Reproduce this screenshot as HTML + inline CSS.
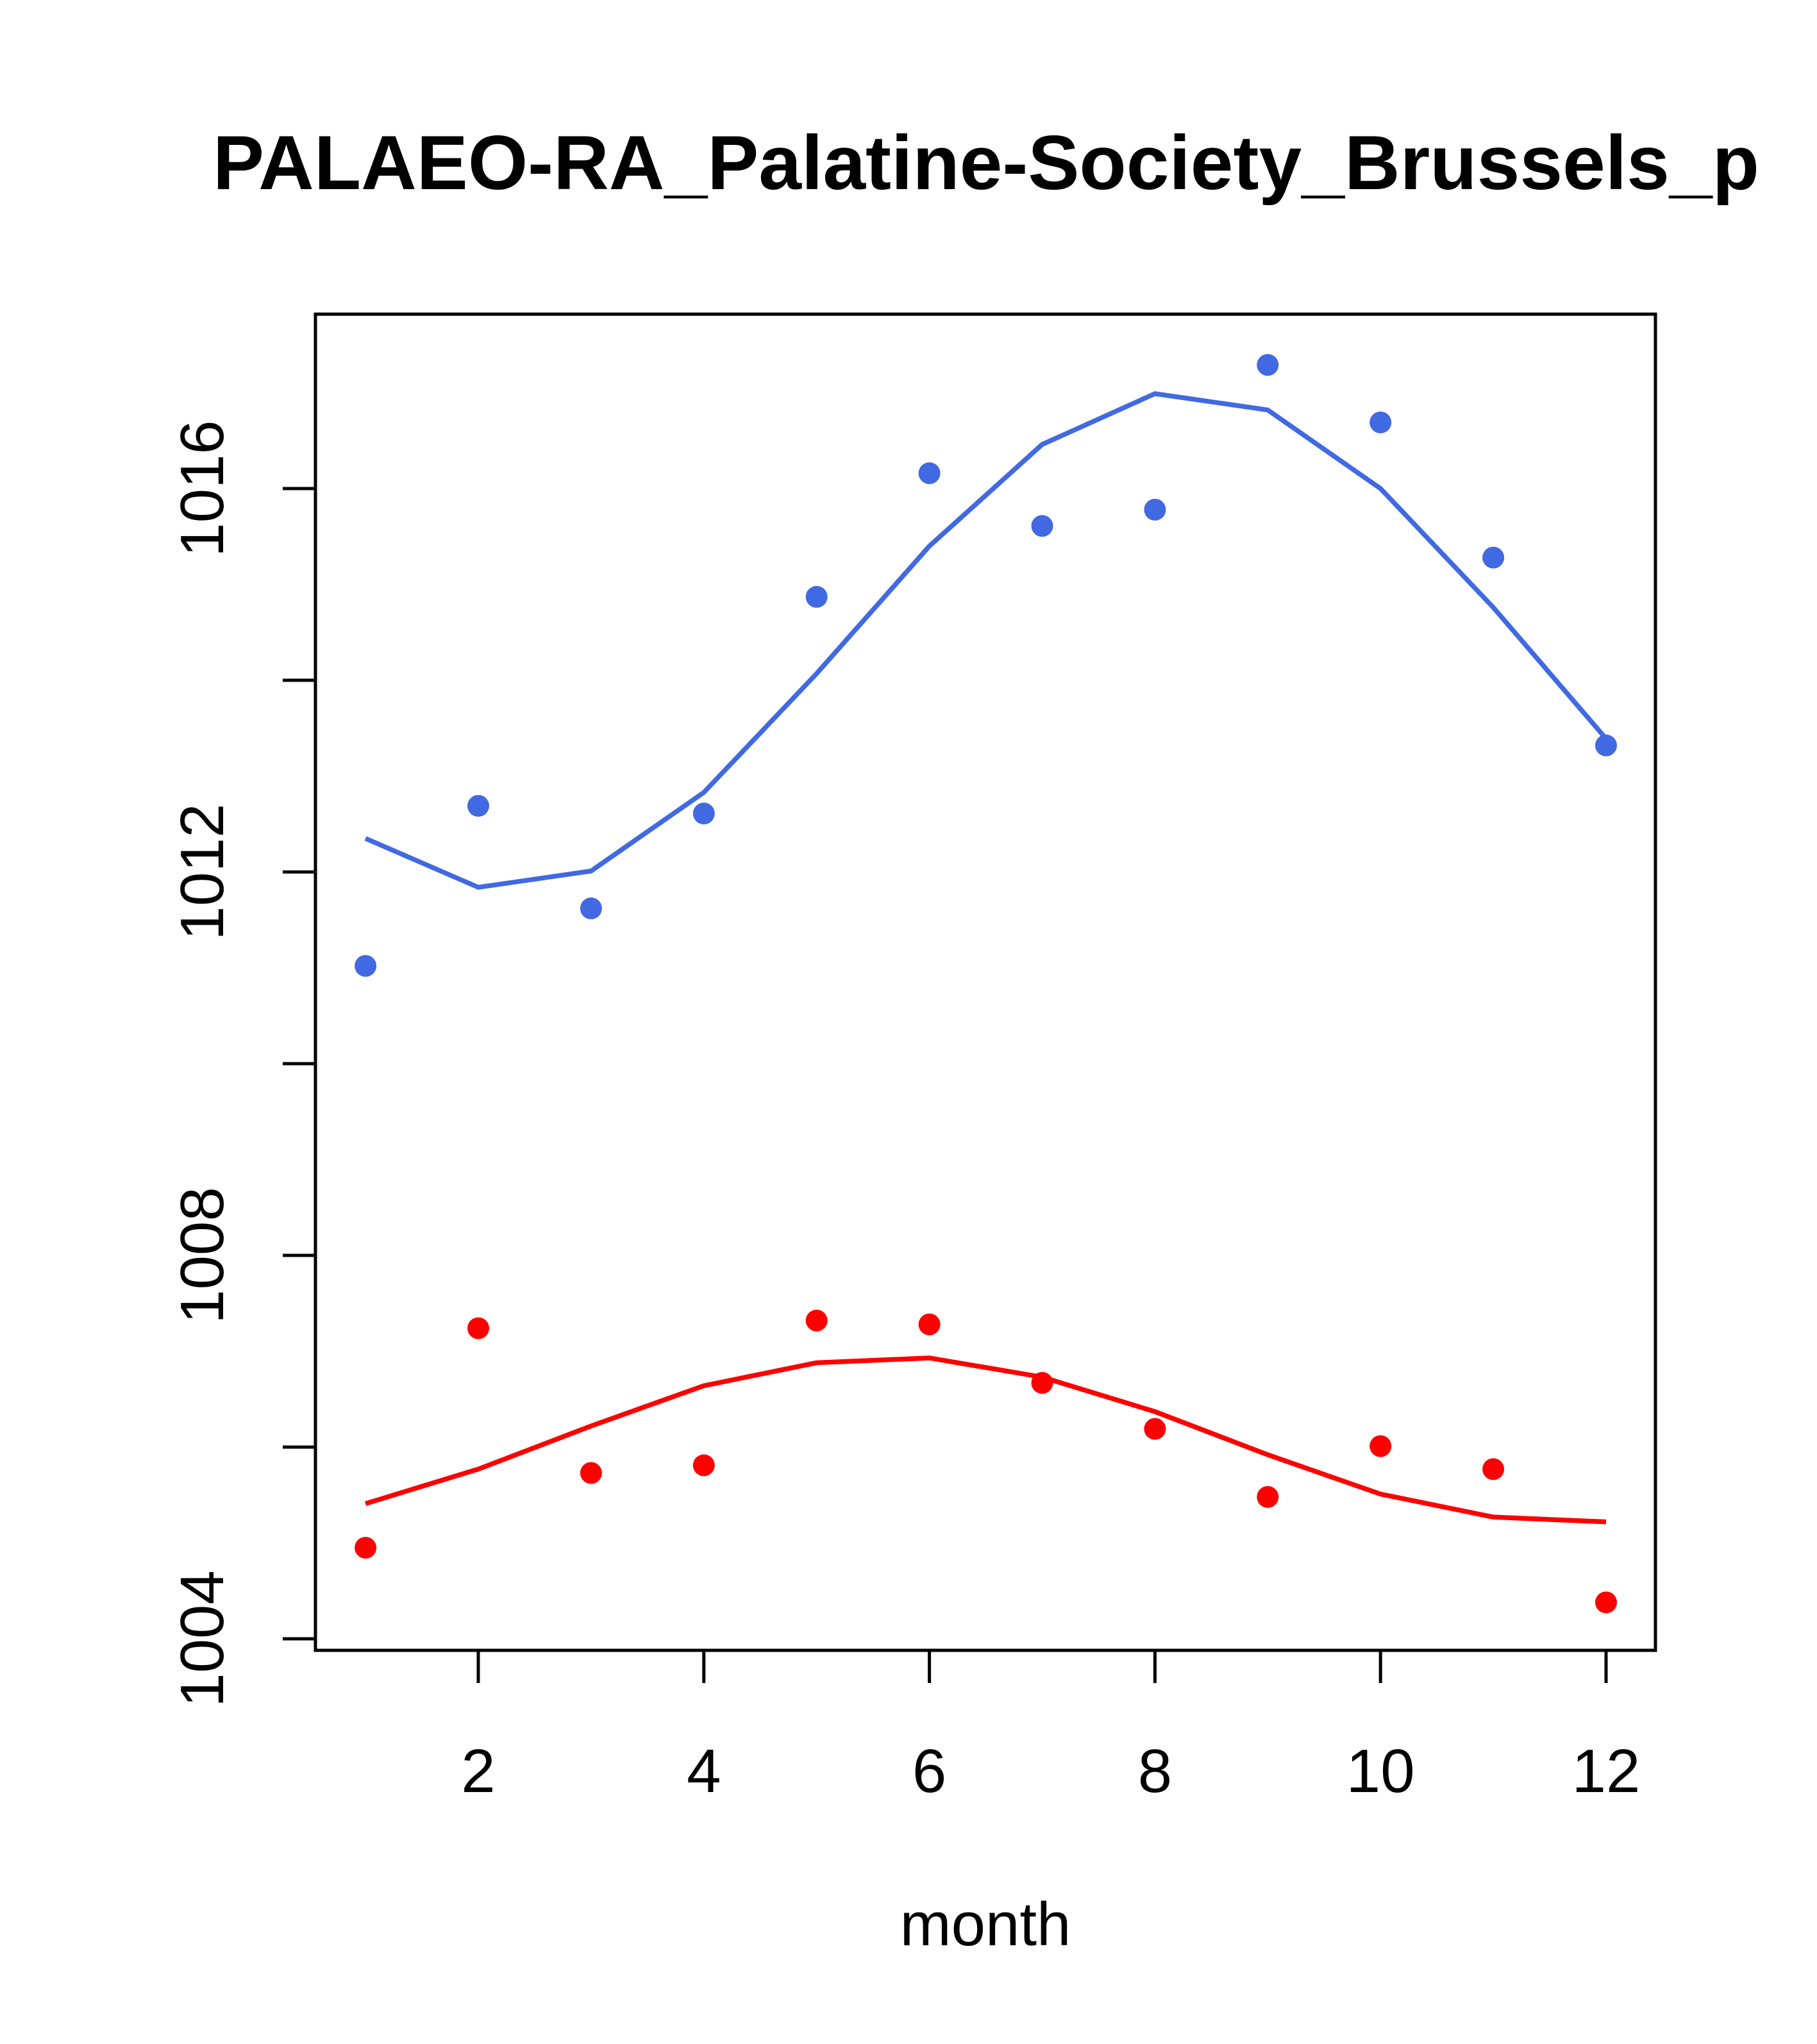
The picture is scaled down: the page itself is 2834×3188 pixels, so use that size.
<!DOCTYPE html>
<html><head><meta charset="utf-8"><style>html,body{margin:0;padding:0;background:#fff}svg{display:block}</style></head>
<body>
<svg id="chart" width="2834" height="3188" xmlns="http://www.w3.org/2000/svg" font-family="Liberation Sans, sans-serif">
<rect width="2834" height="3188" fill="#fff"/>
<text x="1538" y="295" text-anchor="middle" font-size="120" font-weight="bold">PALAEO-RA_Palatine-Society_Brussels_p</text>
<rect x="492" y="490" width="2090" height="2084" fill="none" stroke="#000" stroke-width="5"/>
<text x="1537" y="3034" text-anchor="middle" font-size="96">month</text>
<g id="axes"></g>
<g id="series"></g>
</svg>
<script>
const months=[1,2,3,4,5,6,7,8,9,10,11,12];
const bluePoints=[1011.02,1012.69,1011.62,1012.61,1014.87,1016.16,1015.61,1015.78,1017.29,1016.69,1015.28,1013.32];
const blueLine=[1012.35,1011.84,1012.01,1012.83,1014.07,1015.4,1016.46,1016.99,1016.82,1016.0,1014.76,1013.39];
const redPoints=[1004.95,1007.24,1005.73,1005.81,1007.32,1007.28,1006.67,1006.19,1005.48,1006.01,1005.77,1004.38];
const redLine=[1005.41,1005.77,1006.22,1006.64,1006.88,1006.93,1006.73,1006.37,1005.92,1005.51,1005.27,1005.22];
const xTicks=[2,4,6,8,10,12];
const yTicks=[1004,1006,1008,1010,1012,1014,1016];
const yLabels=[1004,1008,1012,1016];

const NS="http://www.w3.org/2000/svg";
const sx=v=>746+(v-2)*175.9;
const sy=v=>762+(1016-v)*149.5;
function mk(tag,attrs,parent){const e=document.createElementNS(NS,tag);for(const k in attrs)e.setAttribute(k,attrs[k]);parent.appendChild(e);return e;}
const axes=document.getElementById('axes'), series=document.getElementById('series');
xTicks.forEach(t=>{
  const l=mk('line',{x1:sx(t),x2:sx(t),y1:2574,y2:2625,stroke:'#000','stroke-width':5},axes);
  
  
  const tx=mk('text',{x:sx(t),y:2795,'text-anchor':'middle','font-size':96},axes);
  tx.textContent=t;
  
  
});
yTicks.forEach(t=>{
  const l=mk('line',{x1:441,x2:492,y1:sy(t),y2:sy(t),stroke:'#000','stroke-width':5},axes);
  
  
});
yLabels.forEach(t=>{
  const tx=mk('text',{x:0,y:0,'text-anchor':'middle','font-size':96,transform:`translate(348,${sy(t)}) rotate(-90)`},axes);
  tx.textContent=t;
  
  
});
function drawLine(vals,color,name){
  const p=mk('polyline',{points:vals.map((v,i)=>sx(months[i])+','+sy(v)).join(' '),fill:'none',stroke:color,'stroke-width':7.5},series);
  
  
}
function drawPts(vals,color,name){
  vals.forEach((v,i)=>{
    const c=mk('circle',{cx:sx(months[i]),cy:sy(v),r:17,fill:color},series);
    
    
  });
}
drawLine(blueLine,'#4169e1','blue-smooth-line');
drawPts(bluePoints,'#4169e1','blue-point');
drawLine(redLine,'#ff0000','red-smooth-line');
drawPts(redPoints,'#ff0000','red-point');
</script>
</body></html>
